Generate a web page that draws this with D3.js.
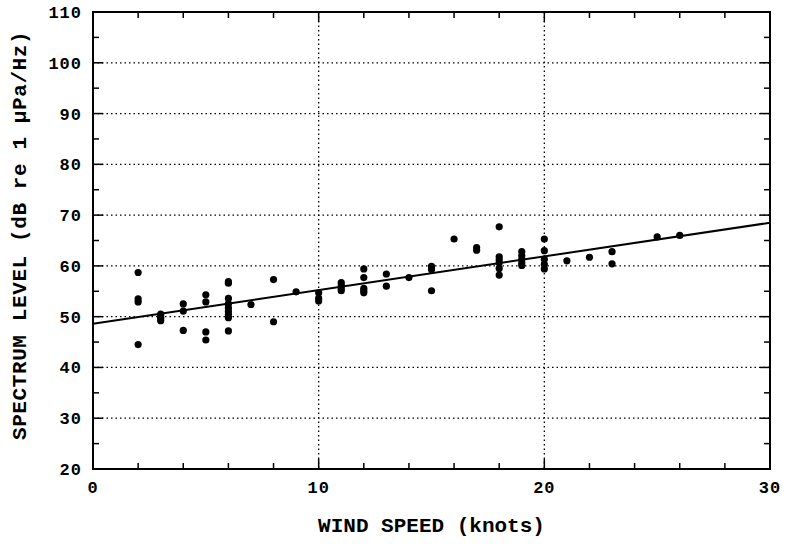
<!DOCTYPE html>
<html>
<head>
<meta charset="utf-8">
<script src="https://cdn.jsdelivr.net/npm/d3@7"></script>
<style>
  body { margin: 0; background: #fff; }
  svg text { font-family: "Liberation Mono", "DejaVu Sans Mono", monospace; font-weight: bold; fill: #000; }
</style>
</head>
<body>
<div id="chart"></div>
<script>
// wind speed (knots) and measured spectrum levels at that speed
const windSpeeds = [2, 3, 4, 5, 6, 7, 8, 9, 10, 11, 12, 13, 14, 15, 16, 17, 18, 19, 20, 21, 22, 23, 25, 26];
const levels = [
    [58.7, 53.5, 52.9, 44.5],
    [50.5, 50.0, 49.6, 49.2],
    [52.5, 51.1, 47.3],
    [54.3, 52.9, 47.0, 45.4],
    [56.9, 56.6, 53.6, 52.5, 51.7, 51.0, 50.4, 49.8, 47.2],
    [52.4],
    [57.3, 49.0],
    [54.9],
    [54.7, 53.6, 53.1],
    [56.7, 56.1, 55.5, 55.1],
    [59.4, 57.7, 55.6, 55.1, 54.7],
    [58.4, 56.0],
    [57.7],
    [59.9, 59.3, 55.1],
    [65.3],
    [63.6, 63.1],
    [67.7, 61.8, 61.2, 60.6, 59.5, 58.2],
    [62.8, 62.0, 61.3, 60.6, 60.1],
    [65.3, 63.0, 61.3, 60.3, 59.4],
    [61.0],
    [61.7],
    [62.8, 60.4],
    [65.7],
    [66.0]
];
// least-squares line drawn over the data
const fitX = [0, 30];
const fitY = [48.6, 68.5];

const xMajor = [0, 10, 20, 30];
const yMajor = [20, 30, 40, 50, 60, 70, 80, 90, 100, 110];

const points = [];
windSpeeds.forEach((w, i) => levels[i].forEach(v => points.push({w, v})));

const W = 786, H = 544;
const margin = {top: 12, right: 16, bottom: 75, left: 93};
const iw = W - margin.left - margin.right;
const ih = H - margin.top - margin.bottom;

const svg = d3.select('#chart').append('svg')
    .attr('width', W).attr('height', H);
const g = svg.append('g').attr('transform', `translate(${margin.left},${margin.top})`);

const x = d3.scaleLinear().domain([0, 30]).range([0, iw]);
const y = d3.scaleLinear().domain([20, 110]).range([ih, 0]);

// dotted grid
g.selectAll('.hgrid').data(yMajor.slice(1, -1)).enter().append('line')
    .attr('x1', 0).attr('x2', iw)
    .attr('y1', d => y(d)).attr('y2', d => y(d))
    .attr('stroke', '#000').attr('stroke-width', 1.3).attr('stroke-dasharray', '1.5,3');
g.selectAll('.vgrid').data(xMajor.slice(1, -1)).enter().append('line')
    .attr('y1', 0).attr('y2', ih)
    .attr('x1', d => x(d)).attr('x2', d => x(d))
    .attr('stroke', '#000').attr('stroke-width', 1.3).attr('stroke-dasharray', '1.5,3');

// inward ticks on all four sides
const xTicks = d3.range(0, 31, 2);
const yTicks = d3.range(20, 111, 5);
const tick = (x1, y1, x2, y2) => g.append('line')
    .attr('x1', x1).attr('y1', y1).attr('x2', x2).attr('y2', y2)
    .attr('stroke', '#000').attr('stroke-width', 1.5);
xTicks.forEach(t => {
    const len = t % 10 === 0 ? 10 : 6;
    tick(x(t), ih, x(t), ih - len);
    tick(x(t), 0, x(t), len);
});
yTicks.forEach(t => {
    const len = t % 10 === 0 ? 10 : 6;
    tick(0, y(t), len, y(t));
    tick(iw, y(t), iw - len, y(t));
});

// frame
g.append('rect').attr('width', iw).attr('height', ih)
    .attr('fill', 'none').attr('stroke', '#000').attr('stroke-width', 2);

// tick labels
g.selectAll('.xl').data(xMajor).enter().append('text')
    .attr('x', d => x(d)).attr('y', ih + 24)
    .attr('text-anchor', 'middle').attr('font-size', '17px')
    .attr('letter-spacing', '1px')
    .text(d => d);
g.selectAll('.yl').data(yMajor).enter().append('text')
    .attr('x', -11).attr('y', d => y(d))
    .attr('dy', '0.35em')
    .attr('text-anchor', 'end').attr('font-size', '17px')
    .attr('letter-spacing', '1px')
    .text(d => d);

// axis titles
svg.append('text')
    .attr('x', margin.left + x(15)).attr('y', 532)
    .attr('text-anchor', 'middle').attr('font-size', '21px')
    .text('WIND SPEED (knots)');
svg.append('text')
    .attr('transform', `translate(26,${margin.top + y(66)}) rotate(-90)`)
    .attr('text-anchor', 'middle').attr('font-size', '21px')
    .attr('letter-spacing', '0.6px')
    .text('SPECTRUM LEVEL (dB re 1 μPa/Hz)');

// regression line
g.append('line')
    .attr('x1', x(fitX[0])).attr('y1', y(fitY[0]))
    .attr('x2', x(fitX[1])).attr('y2', y(fitY[1]))
    .attr('stroke', '#000').attr('stroke-width', 2);

// data points
g.selectAll('.pt').data(points).enter().append('circle')
    .attr('cx', d => x(d.w)).attr('cy', d => y(d.v))
    .attr('r', 3.6).attr('fill', '#000');
</script>
</body>
</html>
